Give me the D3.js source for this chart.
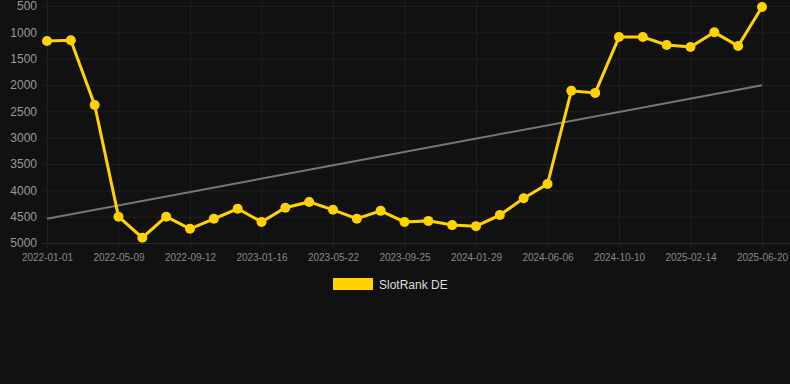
<!DOCTYPE html>
<html>
<head>
<meta charset="utf-8">
<script src="https://cdn.jsdelivr.net/npm/d3@7"></script>
<style>
  body { margin: 0; background: #111111; }
  #chart { width: 790px; height: 384px; }
  text { font-family: "Liberation Sans", Arial, sans-serif; }
</style>
</head>
<body>
<div id="chart"></div>
<script>
// rank values, one per point (lower is better)
var ranks = [1163, 1150, 2380, 4500, 4900, 4500, 4730, 4540, 4350, 4600,
             4330, 4220, 4370, 4540, 4390, 4600, 4580, 4660, 4680, 4470,
             4150, 3880, 2110, 2150, 1090, 1090, 1240, 1280, 1000, 1260, 520];
// a label is shown on every 3rd point
var tickLabels = ["2022-01-01", "2022-05-09", "2022-09-12", "2023-01-16", "2023-05-22",
                  "2023-09-25", "2024-01-29", "2024-06-06", "2024-10-10", "2025-02-14", "2025-06-20"];
var yTicks = [500, 1000, 1500, 2000, 2500, 3000, 3500, 4000, 4500, 5000];
var seriesName = "SlotRank DE";

var width = 790, height = 384;
var svg = d3.select("#chart").append("svg")
  .attr("width", width)
  .attr("height", height);

svg.append("rect").attr("width", width).attr("height", height).attr("fill", "#111111");

var x = d3.scaleLinear().domain([0, ranks.length - 1]).range([47, 762]);
var y = d3.scaleLinear().domain([500, 5000]).range([6, 243]);

// horizontal grid + y labels
var gy = svg.append("g")
  .attr("transform", "translate(42,0)")
  .call(d3.axisLeft(y).tickValues(yTicks).tickSize(-(width - 42)).tickPadding(5).tickFormat(d3.format("d")));
gy.select(".domain").remove();
gy.selectAll("line").attr("stroke", "#1f1f1f");
gy.selectAll("text").attr("fill", "#999999").style("font-size", "12px");
gy.selectAll(".tick").filter(function(d) { return d === 5000; }).select("line").attr("stroke", "#2c2c2c");

// vertical grid + x labels
var xTickIdx = tickLabels.map(function(d, i) { return i * 3; });
var gx = svg.append("g")
  .attr("transform", "translate(0,248)")
  .call(d3.axisBottom(x).tickValues(xTickIdx).tickSize(-248).tickPadding(6)
    .tickFormat(function(d) { return tickLabels[d / 3]; }));
gx.select(".domain").remove();
gx.selectAll("line").attr("stroke", "#1f1f1f");
gx.selectAll("text").attr("fill", "#888888").style("font-size", "10px");

// trend line (least squares over the series)
var n = ranks.length;
var mx = d3.mean(ranks, function(d, i) { return i; });
var my = d3.mean(ranks);
var sxy = d3.sum(ranks, function(d, i) { return (i - mx) * (d - my); });
var sxx = d3.sum(ranks, function(d, i) { return (i - mx) * (i - mx); });
var slope = sxy / sxx, icpt = my - slope * mx;
svg.append("line")
  .attr("x1", x(0)).attr("y1", y(icpt))
  .attr("x2", x(n - 1)).attr("y2", y(icpt + slope * (n - 1)))
  .attr("stroke", "#777777")
  .attr("stroke-width", 2);

// series line
var line = d3.line()
  .x(function(d, i) { return x(i); })
  .y(function(d) { return y(d); });
svg.append("path")
  .datum(ranks)
  .attr("fill", "none")
  .attr("stroke", "#ffd200")
  .attr("stroke-width", 3)
  .attr("d", line);

svg.selectAll(".dot")
  .data(ranks)
  .enter().append("circle")
  .attr("class", "dot")
  .attr("cx", function(d, i) { return x(i); })
  .attr("cy", function(d) { return y(d); })
  .attr("r", 5)
  .attr("fill", "#ffd200");

// legend
var lg = svg.append("g").attr("transform", "translate(333,278)");
lg.append("rect").attr("width", 40).attr("height", 12).attr("fill", "#ffd200");
lg.append("text").attr("x", 46).attr("y", 10.5).attr("fill", "#dddddd")
  .style("font-size", "12px").text(seriesName);
</script>
</body>
</html>
